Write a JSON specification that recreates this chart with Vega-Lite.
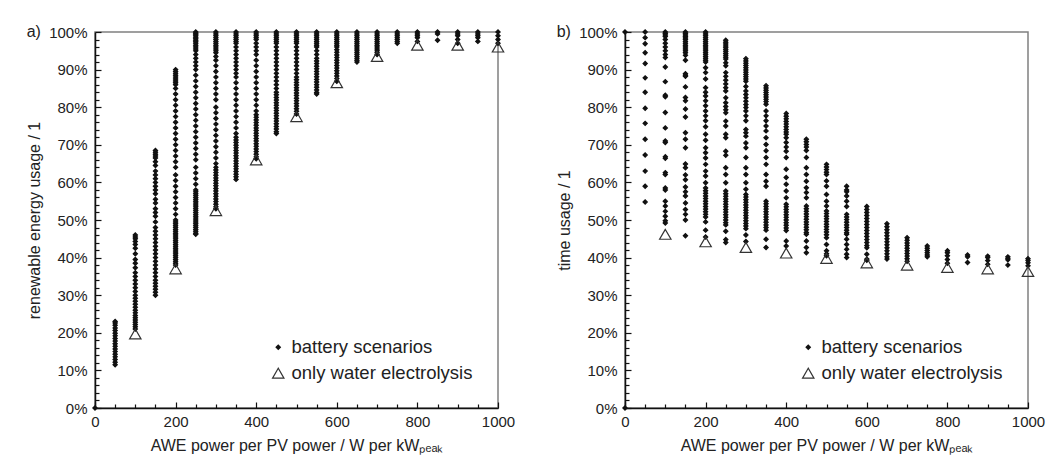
{
"$schema": "https://vega.github.io/schema/vega-lite/v6.json",
"padding": {"left": 25, "top": 23, "right": 5, "bottom": 5},
"background": "white",
"config": {
  "font": "Liberation Sans",
  "view": {"stroke": "#808080", "strokeWidth": 1.5},
  "axis": {"grid": false, "domainColor": "#111111", "domainWidth": 1.5, "tickColor": "#111111", "tickWidth": 1.2, "labelFont": "Liberation Sans", "labelFontSize": 15, "labelColor": "#222222", "titleFont": "Liberation Sans", "titleFontSize": 16, "titleFontWeight": "normal", "titleColor": "#222222", "labelOverlap": false, "labelFlush": false},
  "legend": {"labelFont": "Liberation Sans", "labelFontSize": 18.5, "labelColor": "#222222", "labelLimit": 400, "rowPadding": 7, "labelOffset": 4, "padding": 0, "symbolStrokeWidth": 1.2},
  "title": {"font": "Liberation Sans", "fontSize": 16, "fontWeight": "normal", "color": "#222222", "anchor": "start", "frame": "bounds", "offset": 0, "dy": 19}
},
"datasets": {
"a": [
{"x":0,"y":0,"t":"B"},
{"x":50,"y":11.5,"t":"B"},{"x":50,"y":12.2,"t":"B"},{"x":50,"y":12.9,"t":"B"},{"x":50,"y":13.6,"t":"B"},{"x":50,"y":14.3,"t":"B"},{"x":50,"y":15,"t":"B"},{"x":50,"y":15.7,"t":"B"},{"x":50,"y":16.4,"t":"B"},{"x":50,"y":17.1,"t":"B"},{"x":50,"y":17.8,"t":"B"},{"x":50,"y":18.5,"t":"B"},{"x":50,"y":19.2,"t":"B"},{"x":50,"y":19.9,"t":"B"},{"x":50,"y":20.6,"t":"B"},{"x":50,"y":21.3,"t":"B"},{"x":50,"y":22,"t":"B"},{"x":50,"y":22.6,"t":"B"},{"x":50,"y":23,"t":"B"},
{"x":100,"y":21,"t":"B"},{"x":100,"y":21.6,"t":"B"},{"x":100,"y":22.2,"t":"B"},{"x":100,"y":22.8,"t":"B"},{"x":100,"y":23.4,"t":"B"},{"x":100,"y":24,"t":"B"},{"x":100,"y":24.6,"t":"B"},{"x":100,"y":25.3,"t":"B"},{"x":100,"y":26,"t":"B"},{"x":100,"y":26.8,"t":"B"},{"x":100,"y":27.6,"t":"B"},{"x":100,"y":28.4,"t":"B"},{"x":100,"y":29.2,"t":"B"},{"x":100,"y":30,"t":"B"},{"x":100,"y":31,"t":"B"},{"x":100,"y":32,"t":"B"},{"x":100,"y":33,"t":"B"},{"x":100,"y":34,"t":"B"},{"x":100,"y":35,"t":"B"},{"x":100,"y":36,"t":"B"},{"x":100,"y":37.3,"t":"B"},{"x":100,"y":38.5,"t":"B"},{"x":100,"y":39.5,"t":"B"},{"x":100,"y":41,"t":"B"},{"x":100,"y":42.5,"t":"B"},{"x":100,"y":43.5,"t":"B"},{"x":100,"y":44.3,"t":"B"},{"x":100,"y":45,"t":"B"},{"x":100,"y":45.5,"t":"B"},{"x":100,"y":46,"t":"B"},
{"x":150,"y":30,"t":"B"},{"x":150,"y":30.8,"t":"B"},{"x":150,"y":31.6,"t":"B"},{"x":150,"y":32.4,"t":"B"},{"x":150,"y":33.2,"t":"B"},{"x":150,"y":34,"t":"B"},{"x":150,"y":35,"t":"B"},{"x":150,"y":36,"t":"B"},{"x":150,"y":37,"t":"B"},{"x":150,"y":38,"t":"B"},{"x":150,"y":39,"t":"B"},{"x":150,"y":40,"t":"B"},{"x":150,"y":41,"t":"B"},{"x":150,"y":42,"t":"B"},{"x":150,"y":43,"t":"B"},{"x":150,"y":44,"t":"B"},{"x":150,"y":45,"t":"B"},{"x":150,"y":46,"t":"B"},{"x":150,"y":47,"t":"B"},{"x":150,"y":48,"t":"B"},{"x":150,"y":49.5,"t":"B"},{"x":150,"y":51,"t":"B"},{"x":150,"y":52,"t":"B"},{"x":150,"y":53,"t":"B"},{"x":150,"y":54.5,"t":"B"},{"x":150,"y":55.5,"t":"B"},{"x":150,"y":57,"t":"B"},{"x":150,"y":58,"t":"B"},{"x":150,"y":59,"t":"B"},{"x":150,"y":60,"t":"B"},{"x":150,"y":61,"t":"B"},{"x":150,"y":62,"t":"B"},{"x":150,"y":63,"t":"B"},{"x":150,"y":64.5,"t":"B"},{"x":150,"y":65.5,"t":"B"},{"x":150,"y":66.5,"t":"B"},{"x":150,"y":67,"t":"B"},{"x":150,"y":67.5,"t":"B"},{"x":150,"y":68,"t":"B"},{"x":150,"y":68.5,"t":"B"},
{"x":200,"y":38,"t":"B"},{"x":200,"y":38.5,"t":"B"},{"x":200,"y":39,"t":"B"},{"x":200,"y":39.5,"t":"B"},{"x":200,"y":40,"t":"B"},{"x":200,"y":40.5,"t":"B"},{"x":200,"y":41,"t":"B"},{"x":200,"y":41.5,"t":"B"},{"x":200,"y":42,"t":"B"},{"x":200,"y":42.5,"t":"B"},{"x":200,"y":43,"t":"B"},{"x":200,"y":43.5,"t":"B"},{"x":200,"y":44,"t":"B"},{"x":200,"y":44.5,"t":"B"},{"x":200,"y":45,"t":"B"},{"x":200,"y":45.5,"t":"B"},{"x":200,"y":46,"t":"B"},{"x":200,"y":46.5,"t":"B"},{"x":200,"y":47,"t":"B"},{"x":200,"y":47.5,"t":"B"},{"x":200,"y":48,"t":"B"},{"x":200,"y":48.5,"t":"B"},{"x":200,"y":49,"t":"B"},{"x":200,"y":49.5,"t":"B"},{"x":200,"y":50,"t":"B"},{"x":200,"y":51.5,"t":"B"},{"x":200,"y":53,"t":"B"},{"x":200,"y":54.5,"t":"B"},{"x":200,"y":56,"t":"B"},{"x":200,"y":57.5,"t":"B"},{"x":200,"y":59,"t":"B"},{"x":200,"y":60.5,"t":"B"},{"x":200,"y":62,"t":"B"},{"x":200,"y":64,"t":"B"},{"x":200,"y":65.5,"t":"B"},{"x":200,"y":67,"t":"B"},{"x":200,"y":68.5,"t":"B"},{"x":200,"y":70,"t":"B"},{"x":200,"y":71.5,"t":"B"},{"x":200,"y":73,"t":"B"},{"x":200,"y":74.5,"t":"B"},{"x":200,"y":76,"t":"B"},{"x":200,"y":77.5,"t":"B"},{"x":200,"y":79,"t":"B"},{"x":200,"y":80.5,"t":"B"},{"x":200,"y":82,"t":"B"},{"x":200,"y":83.5,"t":"B"},{"x":200,"y":85,"t":"B"},{"x":200,"y":86,"t":"B"},{"x":200,"y":86.5,"t":"B"},{"x":200,"y":87,"t":"B"},{"x":200,"y":87.5,"t":"B"},{"x":200,"y":88,"t":"B"},{"x":200,"y":88.5,"t":"B"},{"x":200,"y":89,"t":"B"},{"x":200,"y":89.5,"t":"B"},{"x":200,"y":90,"t":"B"},
{"x":250,"y":100,"t":"B"},{"x":250,"y":99.7,"t":"B"},{"x":250,"y":99.4,"t":"B"},{"x":250,"y":99,"t":"B"},{"x":250,"y":98.6,"t":"B"},{"x":250,"y":98.2,"t":"B"},{"x":250,"y":97.8,"t":"B"},{"x":250,"y":97.4,"t":"B"},{"x":250,"y":97,"t":"B"},{"x":250,"y":96.5,"t":"B"},{"x":250,"y":96,"t":"B"},{"x":250,"y":95.5,"t":"B"},{"x":250,"y":95,"t":"B"},{"x":250,"y":94,"t":"B"},{"x":250,"y":93,"t":"B"},{"x":250,"y":92,"t":"B"},{"x":250,"y":91,"t":"B"},{"x":250,"y":90,"t":"B"},{"x":250,"y":88.5,"t":"B"},{"x":250,"y":87,"t":"B"},{"x":250,"y":85.5,"t":"B"},{"x":250,"y":84,"t":"B"},{"x":250,"y":82.5,"t":"B"},{"x":250,"y":81,"t":"B"},{"x":250,"y":79.5,"t":"B"},{"x":250,"y":78,"t":"B"},{"x":250,"y":76.5,"t":"B"},{"x":250,"y":75,"t":"B"},{"x":250,"y":73.5,"t":"B"},{"x":250,"y":72,"t":"B"},{"x":250,"y":70.5,"t":"B"},{"x":250,"y":69,"t":"B"},{"x":250,"y":67.5,"t":"B"},{"x":250,"y":66,"t":"B"},{"x":250,"y":64,"t":"B"},{"x":250,"y":62.5,"t":"B"},{"x":250,"y":61,"t":"B"},{"x":250,"y":59.5,"t":"B"},{"x":250,"y":58,"t":"B"},{"x":250,"y":57.5,"t":"B"},{"x":250,"y":57,"t":"B"},{"x":250,"y":56.5,"t":"B"},{"x":250,"y":56,"t":"B"},{"x":250,"y":55.5,"t":"B"},{"x":250,"y":55,"t":"B"},{"x":250,"y":54.5,"t":"B"},{"x":250,"y":54,"t":"B"},{"x":250,"y":53.5,"t":"B"},{"x":250,"y":53,"t":"B"},{"x":250,"y":52.5,"t":"B"},{"x":250,"y":52,"t":"B"},{"x":250,"y":51.5,"t":"B"},{"x":250,"y":51,"t":"B"},{"x":250,"y":50.5,"t":"B"},{"x":250,"y":50,"t":"B"},{"x":250,"y":49.5,"t":"B"},{"x":250,"y":49,"t":"B"},{"x":250,"y":48.5,"t":"B"},{"x":250,"y":48,"t":"B"},{"x":250,"y":47.5,"t":"B"},{"x":250,"y":47,"t":"B"},{"x":250,"y":46.5,"t":"B"},{"x":250,"y":46.2,"t":"B"},
{"x":300,"y":100,"t":"B"},{"x":300,"y":99.5,"t":"B"},{"x":300,"y":99,"t":"B"},{"x":300,"y":98.5,"t":"B"},{"x":300,"y":98,"t":"B"},{"x":300,"y":97.5,"t":"B"},{"x":300,"y":97,"t":"B"},{"x":300,"y":96.5,"t":"B"},{"x":300,"y":96,"t":"B"},{"x":300,"y":95.5,"t":"B"},{"x":300,"y":95,"t":"B"},{"x":300,"y":94.5,"t":"B"},{"x":300,"y":93.5,"t":"B"},{"x":300,"y":92.5,"t":"B"},{"x":300,"y":91,"t":"B"},{"x":300,"y":89.5,"t":"B"},{"x":300,"y":88,"t":"B"},{"x":300,"y":86.5,"t":"B"},{"x":300,"y":85,"t":"B"},{"x":300,"y":83.5,"t":"B"},{"x":300,"y":82,"t":"B"},{"x":300,"y":80,"t":"B"},{"x":300,"y":78.5,"t":"B"},{"x":300,"y":77,"t":"B"},{"x":300,"y":75.5,"t":"B"},{"x":300,"y":74,"t":"B"},{"x":300,"y":72.5,"t":"B"},{"x":300,"y":71,"t":"B"},{"x":300,"y":69.5,"t":"B"},{"x":300,"y":68,"t":"B"},{"x":300,"y":66.5,"t":"B"},{"x":300,"y":65,"t":"B"},{"x":300,"y":64,"t":"B"},{"x":300,"y":63.3,"t":"B"},{"x":300,"y":62.6,"t":"B"},{"x":300,"y":61.9,"t":"B"},{"x":300,"y":61.2,"t":"B"},{"x":300,"y":60.5,"t":"B"},{"x":300,"y":59.8,"t":"B"},{"x":300,"y":59.1,"t":"B"},{"x":300,"y":58.4,"t":"B"},{"x":300,"y":57.7,"t":"B"},{"x":300,"y":57,"t":"B"},{"x":300,"y":56.3,"t":"B"},{"x":300,"y":55.6,"t":"B"},{"x":300,"y":54.9,"t":"B"},{"x":300,"y":54.2,"t":"B"},{"x":300,"y":53.5,"t":"B"},{"x":300,"y":53,"t":"B"},
{"x":350,"y":100,"t":"B"},{"x":350,"y":99.5,"t":"B"},{"x":350,"y":99,"t":"B"},{"x":350,"y":98.5,"t":"B"},{"x":350,"y":98,"t":"B"},{"x":350,"y":97.5,"t":"B"},{"x":350,"y":97,"t":"B"},{"x":350,"y":96,"t":"B"},{"x":350,"y":95,"t":"B"},{"x":350,"y":94,"t":"B"},{"x":350,"y":93,"t":"B"},{"x":350,"y":92,"t":"B"},{"x":350,"y":91,"t":"B"},{"x":350,"y":90,"t":"B"},{"x":350,"y":89,"t":"B"},{"x":350,"y":88,"t":"B"},{"x":350,"y":86.5,"t":"B"},{"x":350,"y":85,"t":"B"},{"x":350,"y":83.5,"t":"B"},{"x":350,"y":82,"t":"B"},{"x":350,"y":80.5,"t":"B"},{"x":350,"y":79,"t":"B"},{"x":350,"y":77.5,"t":"B"},{"x":350,"y":76,"t":"B"},{"x":350,"y":74.5,"t":"B"},{"x":350,"y":73,"t":"B"},{"x":350,"y":72,"t":"B"},{"x":350,"y":71.3,"t":"B"},{"x":350,"y":70.6,"t":"B"},{"x":350,"y":69.9,"t":"B"},{"x":350,"y":69.2,"t":"B"},{"x":350,"y":68.5,"t":"B"},{"x":350,"y":67.8,"t":"B"},{"x":350,"y":67.1,"t":"B"},{"x":350,"y":66.4,"t":"B"},{"x":350,"y":65.7,"t":"B"},{"x":350,"y":65,"t":"B"},{"x":350,"y":64.3,"t":"B"},{"x":350,"y":63.6,"t":"B"},{"x":350,"y":62.9,"t":"B"},{"x":350,"y":62.2,"t":"B"},{"x":350,"y":61.5,"t":"B"},{"x":350,"y":60.8,"t":"B"},
{"x":400,"y":100,"t":"B"},{"x":400,"y":99.5,"t":"B"},{"x":400,"y":99,"t":"B"},{"x":400,"y":98.5,"t":"B"},{"x":400,"y":98,"t":"B"},{"x":400,"y":97,"t":"B"},{"x":400,"y":96,"t":"B"},{"x":400,"y":95,"t":"B"},{"x":400,"y":94,"t":"B"},{"x":400,"y":92.5,"t":"B"},{"x":400,"y":91,"t":"B"},{"x":400,"y":89.5,"t":"B"},{"x":400,"y":88,"t":"B"},{"x":400,"y":86.5,"t":"B"},{"x":400,"y":85,"t":"B"},{"x":400,"y":83.5,"t":"B"},{"x":400,"y":82,"t":"B"},{"x":400,"y":80.5,"t":"B"},{"x":400,"y":79,"t":"B"},{"x":400,"y":78,"t":"B"},{"x":400,"y":77.3,"t":"B"},{"x":400,"y":76.6,"t":"B"},{"x":400,"y":75.9,"t":"B"},{"x":400,"y":75.2,"t":"B"},{"x":400,"y":74.5,"t":"B"},{"x":400,"y":73.8,"t":"B"},{"x":400,"y":73.1,"t":"B"},{"x":400,"y":72.4,"t":"B"},{"x":400,"y":71.7,"t":"B"},{"x":400,"y":71,"t":"B"},{"x":400,"y":70.3,"t":"B"},{"x":400,"y":69.6,"t":"B"},{"x":400,"y":68.9,"t":"B"},{"x":400,"y":68.2,"t":"B"},{"x":400,"y":67.5,"t":"B"},{"x":400,"y":66.8,"t":"B"},{"x":400,"y":66.3,"t":"B"},
{"x":450,"y":100,"t":"B"},{"x":450,"y":99.5,"t":"B"},{"x":450,"y":99,"t":"B"},{"x":450,"y":98.5,"t":"B"},{"x":450,"y":98,"t":"B"},{"x":450,"y":97.5,"t":"B"},{"x":450,"y":97,"t":"B"},{"x":450,"y":96,"t":"B"},{"x":450,"y":95,"t":"B"},{"x":450,"y":94,"t":"B"},{"x":450,"y":93,"t":"B"},{"x":450,"y":92,"t":"B"},{"x":450,"y":91,"t":"B"},{"x":450,"y":90,"t":"B"},{"x":450,"y":89,"t":"B"},{"x":450,"y":88,"t":"B"},{"x":450,"y":87,"t":"B"},{"x":450,"y":86,"t":"B"},{"x":450,"y":85,"t":"B"},{"x":450,"y":84,"t":"B"},{"x":450,"y":83.3,"t":"B"},{"x":450,"y":82.6,"t":"B"},{"x":450,"y":81.9,"t":"B"},{"x":450,"y":81.2,"t":"B"},{"x":450,"y":80.5,"t":"B"},{"x":450,"y":79.8,"t":"B"},{"x":450,"y":79.1,"t":"B"},{"x":450,"y":78.4,"t":"B"},{"x":450,"y":77.7,"t":"B"},{"x":450,"y":77,"t":"B"},{"x":450,"y":76.3,"t":"B"},{"x":450,"y":75.6,"t":"B"},{"x":450,"y":74.9,"t":"B"},{"x":450,"y":74.2,"t":"B"},{"x":450,"y":73.5,"t":"B"},{"x":450,"y":73,"t":"B"},
{"x":500,"y":100,"t":"B"},{"x":500,"y":99.5,"t":"B"},{"x":500,"y":99,"t":"B"},{"x":500,"y":98.5,"t":"B"},{"x":500,"y":98,"t":"B"},{"x":500,"y":97.5,"t":"B"},{"x":500,"y":97,"t":"B"},{"x":500,"y":96,"t":"B"},{"x":500,"y":95,"t":"B"},{"x":500,"y":94,"t":"B"},{"x":500,"y":93,"t":"B"},{"x":500,"y":92,"t":"B"},{"x":500,"y":91,"t":"B"},{"x":500,"y":90,"t":"B"},{"x":500,"y":89,"t":"B"},{"x":500,"y":88,"t":"B"},{"x":500,"y":87.3,"t":"B"},{"x":500,"y":86.6,"t":"B"},{"x":500,"y":85.9,"t":"B"},{"x":500,"y":85.2,"t":"B"},{"x":500,"y":84.5,"t":"B"},{"x":500,"y":83.8,"t":"B"},{"x":500,"y":83.1,"t":"B"},{"x":500,"y":82.4,"t":"B"},{"x":500,"y":81.7,"t":"B"},{"x":500,"y":81,"t":"B"},{"x":500,"y":80.3,"t":"B"},{"x":500,"y":79.6,"t":"B"},{"x":500,"y":78.9,"t":"B"},{"x":500,"y":78.2,"t":"B"},
{"x":550,"y":100,"t":"B"},{"x":550,"y":99.5,"t":"B"},{"x":550,"y":99,"t":"B"},{"x":550,"y":98.5,"t":"B"},{"x":550,"y":98,"t":"B"},{"x":550,"y":97.5,"t":"B"},{"x":550,"y":97,"t":"B"},{"x":550,"y":96.5,"t":"B"},{"x":550,"y":96,"t":"B"},{"x":550,"y":95,"t":"B"},{"x":550,"y":94,"t":"B"},{"x":550,"y":93,"t":"B"},{"x":550,"y":92.3,"t":"B"},{"x":550,"y":91.6,"t":"B"},{"x":550,"y":90.9,"t":"B"},{"x":550,"y":90.2,"t":"B"},{"x":550,"y":89.5,"t":"B"},{"x":550,"y":88.8,"t":"B"},{"x":550,"y":88.1,"t":"B"},{"x":550,"y":87.4,"t":"B"},{"x":550,"y":86.7,"t":"B"},{"x":550,"y":86,"t":"B"},{"x":550,"y":85.3,"t":"B"},{"x":550,"y":84.6,"t":"B"},{"x":550,"y":83.9,"t":"B"},{"x":550,"y":83.5,"t":"B"},
{"x":600,"y":100,"t":"B"},{"x":600,"y":99.5,"t":"B"},{"x":600,"y":99,"t":"B"},{"x":600,"y":98.5,"t":"B"},{"x":600,"y":98,"t":"B"},{"x":600,"y":97.5,"t":"B"},{"x":600,"y":97,"t":"B"},{"x":600,"y":96.5,"t":"B"},{"x":600,"y":96,"t":"B"},{"x":600,"y":95.3,"t":"B"},{"x":600,"y":94.6,"t":"B"},{"x":600,"y":93.9,"t":"B"},{"x":600,"y":93.2,"t":"B"},{"x":600,"y":92.5,"t":"B"},{"x":600,"y":91.8,"t":"B"},{"x":600,"y":91.1,"t":"B"},{"x":600,"y":90.4,"t":"B"},{"x":600,"y":89.7,"t":"B"},{"x":600,"y":89,"t":"B"},{"x":600,"y":88.3,"t":"B"},{"x":600,"y":87.6,"t":"B"},{"x":600,"y":86.9,"t":"B"},
{"x":650,"y":100,"t":"B"},{"x":650,"y":99.5,"t":"B"},{"x":650,"y":99,"t":"B"},{"x":650,"y":98.5,"t":"B"},{"x":650,"y":98,"t":"B"},{"x":650,"y":97.5,"t":"B"},{"x":650,"y":97,"t":"B"},{"x":650,"y":96.5,"t":"B"},{"x":650,"y":96,"t":"B"},{"x":650,"y":95.5,"t":"B"},{"x":650,"y":95,"t":"B"},{"x":650,"y":94.5,"t":"B"},{"x":650,"y":94,"t":"B"},{"x":650,"y":93.5,"t":"B"},{"x":650,"y":93,"t":"B"},{"x":650,"y":92.5,"t":"B"},{"x":650,"y":92,"t":"B"},
{"x":700,"y":100,"t":"B"},{"x":700,"y":99.5,"t":"B"},{"x":700,"y":99,"t":"B"},{"x":700,"y":98.5,"t":"B"},{"x":700,"y":98,"t":"B"},{"x":700,"y":97.5,"t":"B"},{"x":700,"y":97,"t":"B"},{"x":700,"y":96.5,"t":"B"},{"x":700,"y":96,"t":"B"},{"x":700,"y":95.5,"t":"B"},{"x":700,"y":95,"t":"B"},{"x":700,"y":94.5,"t":"B"},{"x":700,"y":94,"t":"B"},
{"x":750,"y":100,"t":"B"},{"x":750,"y":99.5,"t":"B"},{"x":750,"y":99,"t":"B"},{"x":750,"y":98.5,"t":"B"},{"x":750,"y":98,"t":"B"},{"x":750,"y":97.5,"t":"B"},{"x":750,"y":97,"t":"B"},
{"x":800,"y":100,"t":"B"},{"x":800,"y":99.5,"t":"B"},{"x":800,"y":99,"t":"B"},{"x":800,"y":98.5,"t":"B"},{"x":800,"y":97.5,"t":"B"},
{"x":850,"y":100,"t":"B"},{"x":850,"y":99.5,"t":"B"},{"x":850,"y":97.8,"t":"B"},
{"x":900,"y":100,"t":"B"},{"x":900,"y":99.5,"t":"B"},{"x":900,"y":99,"t":"B"},{"x":900,"y":98,"t":"B"},{"x":900,"y":97,"t":"B"},
{"x":950,"y":100,"t":"B"},{"x":950,"y":99.5,"t":"B"},{"x":950,"y":99,"t":"B"},{"x":950,"y":98.5,"t":"B"},{"x":950,"y":97.5,"t":"B"},
{"x":1000,"y":100,"t":"B"},{"x":1000,"y":99,"t":"B"},{"x":1000,"y":98,"t":"B"},{"x":1000,"y":97,"t":"B"},
{"x":100,"y":19.7,"t":"W"},{"x":200,"y":37,"t":"W"},{"x":300,"y":52.5,"t":"W"},{"x":400,"y":66,"t":"W"},{"x":500,"y":77.5,"t":"W"},{"x":600,"y":86.5,"t":"W"},{"x":700,"y":93.5,"t":"W"},{"x":800,"y":96.5,"t":"W"},{"x":900,"y":96.5,"t":"W"},{"x":1000,"y":96,"t":"W"}
],
"b": [
{"x":0,"y":100,"t":"B"},{"x":0,"y":0,"t":"B"},
{"x":50,"y":100,"t":"B"},{"x":50,"y":98.5,"t":"B"},{"x":50,"y":96.9,"t":"B"},{"x":50,"y":94.5,"t":"B"},{"x":50,"y":91.6,"t":"B"},{"x":50,"y":87.8,"t":"B"},{"x":50,"y":84,"t":"B"},{"x":50,"y":79.7,"t":"B"},{"x":50,"y":75.7,"t":"B"},{"x":50,"y":71.5,"t":"B"},{"x":50,"y":67.3,"t":"B"},{"x":50,"y":63,"t":"B"},{"x":50,"y":59,"t":"B"},{"x":50,"y":54.8,"t":"B"},
{"x":100,"y":100,"t":"B"},{"x":100,"y":99.6,"t":"B"},{"x":100,"y":99.2,"t":"B"},{"x":100,"y":98.8,"t":"B"},{"x":100,"y":98,"t":"B"},{"x":100,"y":97,"t":"B"},{"x":100,"y":96,"t":"B"},{"x":100,"y":95,"t":"B"},{"x":100,"y":94,"t":"B"},{"x":100,"y":93.2,"t":"B"},{"x":100,"y":90.7,"t":"B"},{"x":100,"y":86.8,"t":"B"},{"x":100,"y":83.2,"t":"B"},{"x":100,"y":82.8,"t":"B"},{"x":100,"y":78.6,"t":"B"},{"x":100,"y":74.5,"t":"B"},{"x":100,"y":71,"t":"B"},{"x":100,"y":70.6,"t":"B"},{"x":100,"y":66.8,"t":"B"},{"x":100,"y":66.4,"t":"B"},{"x":100,"y":62.6,"t":"B"},{"x":100,"y":62.1,"t":"B"},{"x":100,"y":58.5,"t":"B"},{"x":100,"y":58,"t":"B"},{"x":100,"y":55,"t":"B"},{"x":100,"y":53.7,"t":"B"},{"x":100,"y":52.3,"t":"B"},{"x":100,"y":51,"t":"B"},{"x":100,"y":49.8,"t":"B"},{"x":100,"y":49.2,"t":"B"},
{"x":150,"y":100,"t":"B"},{"x":150,"y":99.6,"t":"B"},{"x":150,"y":99.2,"t":"B"},{"x":150,"y":98.8,"t":"B"},{"x":150,"y":98.4,"t":"B"},{"x":150,"y":98,"t":"B"},{"x":150,"y":97.5,"t":"B"},{"x":150,"y":97,"t":"B"},{"x":150,"y":96.5,"t":"B"},{"x":150,"y":96,"t":"B"},{"x":150,"y":95.5,"t":"B"},{"x":150,"y":95,"t":"B"},{"x":150,"y":94.5,"t":"B"},{"x":150,"y":93.8,"t":"B"},{"x":150,"y":92.5,"t":"B"},{"x":150,"y":88.9,"t":"B"},{"x":150,"y":88.5,"t":"B"},{"x":150,"y":88.2,"t":"B"},{"x":150,"y":85.4,"t":"B"},{"x":150,"y":82.6,"t":"B"},{"x":150,"y":81.7,"t":"B"},{"x":150,"y":79.5,"t":"B"},{"x":150,"y":77.4,"t":"B"},{"x":150,"y":73.2,"t":"B"},{"x":150,"y":71.5,"t":"B"},{"x":150,"y":69.2,"t":"B"},{"x":150,"y":64.9,"t":"B"},{"x":150,"y":63.9,"t":"B"},{"x":150,"y":62,"t":"B"},{"x":150,"y":60.7,"t":"B"},{"x":150,"y":58.8,"t":"B"},{"x":150,"y":57.5,"t":"B"},{"x":150,"y":56.4,"t":"B"},{"x":150,"y":54.5,"t":"B"},{"x":150,"y":52.8,"t":"B"},{"x":150,"y":51.5,"t":"B"},{"x":150,"y":50,"t":"B"},{"x":150,"y":45.8,"t":"B"},
{"x":200,"y":100,"t":"B"},{"x":200,"y":99.5,"t":"B"},{"x":200,"y":99,"t":"B"},{"x":200,"y":98.5,"t":"B"},{"x":200,"y":98,"t":"B"},{"x":200,"y":97.5,"t":"B"},{"x":200,"y":97,"t":"B"},{"x":200,"y":96.5,"t":"B"},{"x":200,"y":96,"t":"B"},{"x":200,"y":95.5,"t":"B"},{"x":200,"y":95,"t":"B"},{"x":200,"y":94.5,"t":"B"},{"x":200,"y":94,"t":"B"},{"x":200,"y":93.5,"t":"B"},{"x":200,"y":93,"t":"B"},{"x":200,"y":92.5,"t":"B"},{"x":200,"y":92,"t":"B"},{"x":200,"y":90.5,"t":"B"},{"x":200,"y":89.2,"t":"B"},{"x":200,"y":87.5,"t":"B"},{"x":200,"y":85.2,"t":"B"},{"x":200,"y":84,"t":"B"},{"x":200,"y":83,"t":"B"},{"x":200,"y":81.7,"t":"B"},{"x":200,"y":80.4,"t":"B"},{"x":200,"y":79,"t":"B"},{"x":200,"y":77.7,"t":"B"},{"x":200,"y":76.4,"t":"B"},{"x":200,"y":74.8,"t":"B"},{"x":200,"y":72.8,"t":"B"},{"x":200,"y":71.2,"t":"B"},{"x":200,"y":69.2,"t":"B"},{"x":200,"y":67.9,"t":"B"},{"x":200,"y":66.5,"t":"B"},{"x":200,"y":64.8,"t":"B"},{"x":200,"y":63,"t":"B"},{"x":200,"y":61.7,"t":"B"},{"x":200,"y":59.9,"t":"B"},{"x":200,"y":58.5,"t":"B"},{"x":200,"y":57.8,"t":"B"},{"x":200,"y":57.1,"t":"B"},{"x":200,"y":56.4,"t":"B"},{"x":200,"y":55.7,"t":"B"},{"x":200,"y":55,"t":"B"},{"x":200,"y":54.3,"t":"B"},{"x":200,"y":53.6,"t":"B"},{"x":200,"y":52.9,"t":"B"},{"x":200,"y":52.2,"t":"B"},{"x":200,"y":51.5,"t":"B"},{"x":200,"y":50.8,"t":"B"},{"x":200,"y":49.5,"t":"B"},{"x":200,"y":47.3,"t":"B"},{"x":200,"y":45.5,"t":"B"},
{"x":250,"y":97.8,"t":"B"},{"x":250,"y":97.3,"t":"B"},{"x":250,"y":96.8,"t":"B"},{"x":250,"y":96.3,"t":"B"},{"x":250,"y":95.8,"t":"B"},{"x":250,"y":95.3,"t":"B"},{"x":250,"y":94.8,"t":"B"},{"x":250,"y":94.3,"t":"B"},{"x":250,"y":93.8,"t":"B"},{"x":250,"y":93.3,"t":"B"},{"x":250,"y":92.8,"t":"B"},{"x":250,"y":91.8,"t":"B"},{"x":250,"y":91,"t":"B"},{"x":250,"y":89.2,"t":"B"},{"x":250,"y":88.2,"t":"B"},{"x":250,"y":87.2,"t":"B"},{"x":250,"y":86.2,"t":"B"},{"x":250,"y":85.2,"t":"B"},{"x":250,"y":84.3,"t":"B"},{"x":250,"y":82.5,"t":"B"},{"x":250,"y":81.2,"t":"B"},{"x":250,"y":80.2,"t":"B"},{"x":250,"y":79.3,"t":"B"},{"x":250,"y":78.5,"t":"B"},{"x":250,"y":76.3,"t":"B"},{"x":250,"y":75,"t":"B"},{"x":250,"y":72.8,"t":"B"},{"x":250,"y":71.9,"t":"B"},{"x":250,"y":68.3,"t":"B"},{"x":250,"y":67.2,"t":"B"},{"x":250,"y":63.9,"t":"B"},{"x":250,"y":62.1,"t":"B"},{"x":250,"y":59.9,"t":"B"},{"x":250,"y":57.7,"t":"B"},{"x":250,"y":57,"t":"B"},{"x":250,"y":56.3,"t":"B"},{"x":250,"y":55.6,"t":"B"},{"x":250,"y":54.9,"t":"B"},{"x":250,"y":54.2,"t":"B"},{"x":250,"y":53.5,"t":"B"},{"x":250,"y":52.8,"t":"B"},{"x":250,"y":52.1,"t":"B"},{"x":250,"y":51.4,"t":"B"},{"x":250,"y":50.7,"t":"B"},{"x":250,"y":50,"t":"B"},{"x":250,"y":49.3,"t":"B"},{"x":250,"y":48.7,"t":"B"},{"x":250,"y":47,"t":"B"},{"x":250,"y":44.8,"t":"B"},{"x":250,"y":44,"t":"B"},
{"x":300,"y":92.9,"t":"B"},{"x":300,"y":92.3,"t":"B"},{"x":300,"y":91.7,"t":"B"},{"x":300,"y":91.1,"t":"B"},{"x":300,"y":90.5,"t":"B"},{"x":300,"y":89.9,"t":"B"},{"x":300,"y":89.3,"t":"B"},{"x":300,"y":88.7,"t":"B"},{"x":300,"y":88.1,"t":"B"},{"x":300,"y":87.5,"t":"B"},{"x":300,"y":86.9,"t":"B"},{"x":300,"y":85.5,"t":"B"},{"x":300,"y":84.3,"t":"B"},{"x":300,"y":83.4,"t":"B"},{"x":300,"y":82.5,"t":"B"},{"x":300,"y":81.6,"t":"B"},{"x":300,"y":80.7,"t":"B"},{"x":300,"y":79.9,"t":"B"},{"x":300,"y":79,"t":"B"},{"x":300,"y":77.7,"t":"B"},{"x":300,"y":76.4,"t":"B"},{"x":300,"y":74.1,"t":"B"},{"x":300,"y":73.2,"t":"B"},{"x":300,"y":72.3,"t":"B"},{"x":300,"y":70.5,"t":"B"},{"x":300,"y":69.2,"t":"B"},{"x":300,"y":66.6,"t":"B"},{"x":300,"y":63.9,"t":"B"},{"x":300,"y":62.1,"t":"B"},{"x":300,"y":59.9,"t":"B"},{"x":300,"y":58.2,"t":"B"},{"x":300,"y":56.8,"t":"B"},{"x":300,"y":56.1,"t":"B"},{"x":300,"y":55.4,"t":"B"},{"x":300,"y":54.7,"t":"B"},{"x":300,"y":54,"t":"B"},{"x":300,"y":53.3,"t":"B"},{"x":300,"y":52.6,"t":"B"},{"x":300,"y":51.9,"t":"B"},{"x":300,"y":51.2,"t":"B"},{"x":300,"y":50.5,"t":"B"},{"x":300,"y":49.8,"t":"B"},{"x":300,"y":49.1,"t":"B"},{"x":300,"y":48.4,"t":"B"},{"x":300,"y":47.7,"t":"B"},{"x":300,"y":46,"t":"B"},{"x":300,"y":44.3,"t":"B"},
{"x":350,"y":85.7,"t":"B"},{"x":350,"y":85.1,"t":"B"},{"x":350,"y":84.5,"t":"B"},{"x":350,"y":83.9,"t":"B"},{"x":350,"y":83.3,"t":"B"},{"x":350,"y":82.7,"t":"B"},{"x":350,"y":82.1,"t":"B"},{"x":350,"y":81.5,"t":"B"},{"x":350,"y":80.8,"t":"B"},{"x":350,"y":79,"t":"B"},{"x":350,"y":77.7,"t":"B"},{"x":350,"y":76.4,"t":"B"},{"x":350,"y":75,"t":"B"},{"x":350,"y":73.7,"t":"B"},{"x":350,"y":71.9,"t":"B"},{"x":350,"y":70.1,"t":"B"},{"x":350,"y":68.4,"t":"B"},{"x":350,"y":66.6,"t":"B"},{"x":350,"y":64.8,"t":"B"},{"x":350,"y":62.1,"t":"B"},{"x":350,"y":60.3,"t":"B"},{"x":350,"y":59,"t":"B"},{"x":350,"y":55,"t":"B"},{"x":350,"y":54.3,"t":"B"},{"x":350,"y":53.6,"t":"B"},{"x":350,"y":52.9,"t":"B"},{"x":350,"y":52.2,"t":"B"},{"x":350,"y":51.5,"t":"B"},{"x":350,"y":50.8,"t":"B"},{"x":350,"y":50.1,"t":"B"},{"x":350,"y":49.4,"t":"B"},{"x":350,"y":48.7,"t":"B"},{"x":350,"y":48,"t":"B"},{"x":350,"y":47.3,"t":"B"},{"x":350,"y":44.9,"t":"B"},{"x":350,"y":42.7,"t":"B"},
{"x":400,"y":78.3,"t":"B"},{"x":400,"y":77.6,"t":"B"},{"x":400,"y":76.9,"t":"B"},{"x":400,"y":76.2,"t":"B"},{"x":400,"y":75.5,"t":"B"},{"x":400,"y":74.8,"t":"B"},{"x":400,"y":74.1,"t":"B"},{"x":400,"y":73.4,"t":"B"},{"x":400,"y":72.8,"t":"B"},{"x":400,"y":71.9,"t":"B"},{"x":400,"y":70.6,"t":"B"},{"x":400,"y":69.4,"t":"B"},{"x":400,"y":68.3,"t":"B"},{"x":400,"y":66.6,"t":"B"},{"x":400,"y":63.5,"t":"B"},{"x":400,"y":61.3,"t":"B"},{"x":400,"y":59.5,"t":"B"},{"x":400,"y":57.7,"t":"B"},{"x":400,"y":55.9,"t":"B"},{"x":400,"y":54.2,"t":"B"},{"x":400,"y":53.5,"t":"B"},{"x":400,"y":52.8,"t":"B"},{"x":400,"y":52.1,"t":"B"},{"x":400,"y":51.4,"t":"B"},{"x":400,"y":50.7,"t":"B"},{"x":400,"y":50,"t":"B"},{"x":400,"y":49.3,"t":"B"},{"x":400,"y":48.6,"t":"B"},{"x":400,"y":47.9,"t":"B"},{"x":400,"y":47.2,"t":"B"},{"x":400,"y":44.4,"t":"B"},{"x":400,"y":43.1,"t":"B"},
{"x":450,"y":71.5,"t":"B"},{"x":450,"y":70.8,"t":"B"},{"x":450,"y":70.1,"t":"B"},{"x":450,"y":69.4,"t":"B"},{"x":450,"y":68.5,"t":"B"},{"x":450,"y":66.6,"t":"B"},{"x":450,"y":63.9,"t":"B"},{"x":450,"y":62.1,"t":"B"},{"x":450,"y":60.3,"t":"B"},{"x":450,"y":58.6,"t":"B"},{"x":450,"y":57.3,"t":"B"},{"x":450,"y":55.9,"t":"B"},{"x":450,"y":53.7,"t":"B"},{"x":450,"y":53,"t":"B"},{"x":450,"y":52.3,"t":"B"},{"x":450,"y":51.6,"t":"B"},{"x":450,"y":50.9,"t":"B"},{"x":450,"y":50.2,"t":"B"},{"x":450,"y":49.5,"t":"B"},{"x":450,"y":48.8,"t":"B"},{"x":450,"y":48.1,"t":"B"},{"x":450,"y":47.4,"t":"B"},{"x":450,"y":46.7,"t":"B"},{"x":450,"y":46.2,"t":"B"},{"x":450,"y":44.4,"t":"B"},{"x":450,"y":42.7,"t":"B"},{"x":450,"y":41.3,"t":"B"},
{"x":500,"y":64.8,"t":"B"},{"x":500,"y":64.1,"t":"B"},{"x":500,"y":63.4,"t":"B"},{"x":500,"y":62.7,"t":"B"},{"x":500,"y":62.1,"t":"B"},{"x":500,"y":60.4,"t":"B"},{"x":500,"y":59,"t":"B"},{"x":500,"y":56.8,"t":"B"},{"x":500,"y":55,"t":"B"},{"x":500,"y":53.7,"t":"B"},{"x":500,"y":52.4,"t":"B"},{"x":500,"y":51.7,"t":"B"},{"x":500,"y":51,"t":"B"},{"x":500,"y":50.3,"t":"B"},{"x":500,"y":49.6,"t":"B"},{"x":500,"y":48.9,"t":"B"},{"x":500,"y":48.2,"t":"B"},{"x":500,"y":47.5,"t":"B"},{"x":500,"y":46.8,"t":"B"},{"x":500,"y":46.1,"t":"B"},{"x":500,"y":45.3,"t":"B"},{"x":500,"y":43.5,"t":"B"},{"x":500,"y":41.8,"t":"B"},{"x":500,"y":41,"t":"B"},{"x":500,"y":40.5,"t":"B"},
{"x":550,"y":59,"t":"B"},{"x":550,"y":58,"t":"B"},{"x":550,"y":57.5,"t":"B"},{"x":550,"y":56.4,"t":"B"},{"x":550,"y":55,"t":"B"},{"x":550,"y":53.6,"t":"B"},{"x":550,"y":51.5,"t":"B"},{"x":550,"y":50.8,"t":"B"},{"x":550,"y":50.1,"t":"B"},{"x":550,"y":49.4,"t":"B"},{"x":550,"y":48.7,"t":"B"},{"x":550,"y":48,"t":"B"},{"x":550,"y":47.3,"t":"B"},{"x":550,"y":46.6,"t":"B"},{"x":550,"y":46.2,"t":"B"},{"x":550,"y":44.9,"t":"B"},{"x":550,"y":43.5,"t":"B"},{"x":550,"y":42.2,"t":"B"},{"x":550,"y":40.9,"t":"B"},{"x":550,"y":40,"t":"B"},
{"x":600,"y":53.6,"t":"B"},{"x":600,"y":52.8,"t":"B"},{"x":600,"y":52,"t":"B"},{"x":600,"y":51.2,"t":"B"},{"x":600,"y":50.4,"t":"B"},{"x":600,"y":49.6,"t":"B"},{"x":600,"y":48.8,"t":"B"},{"x":600,"y":48,"t":"B"},{"x":600,"y":47.2,"t":"B"},{"x":600,"y":46.4,"t":"B"},{"x":600,"y":45.6,"t":"B"},{"x":600,"y":44.8,"t":"B"},{"x":600,"y":44,"t":"B"},{"x":600,"y":43.2,"t":"B"},{"x":600,"y":42.6,"t":"B"},{"x":600,"y":40.9,"t":"B"},{"x":600,"y":39.6,"t":"B"},{"x":600,"y":39.3,"t":"B"},
{"x":650,"y":49,"t":"B"},{"x":650,"y":48.2,"t":"B"},{"x":650,"y":47.4,"t":"B"},{"x":650,"y":46.6,"t":"B"},{"x":650,"y":45.8,"t":"B"},{"x":650,"y":45,"t":"B"},{"x":650,"y":44.2,"t":"B"},{"x":650,"y":43.4,"t":"B"},{"x":650,"y":42.6,"t":"B"},{"x":650,"y":41.8,"t":"B"},{"x":650,"y":41,"t":"B"},{"x":650,"y":40.2,"t":"B"},{"x":650,"y":39.6,"t":"B"},
{"x":700,"y":45.3,"t":"B"},{"x":700,"y":44.6,"t":"B"},{"x":700,"y":43.9,"t":"B"},{"x":700,"y":43.2,"t":"B"},{"x":700,"y":42.5,"t":"B"},{"x":700,"y":41.8,"t":"B"},{"x":700,"y":41.1,"t":"B"},{"x":700,"y":40.4,"t":"B"},{"x":700,"y":39.7,"t":"B"},{"x":700,"y":39,"t":"B"},
{"x":750,"y":43.1,"t":"B"},{"x":750,"y":42.5,"t":"B"},{"x":750,"y":41.9,"t":"B"},{"x":750,"y":41.3,"t":"B"},{"x":750,"y":40.7,"t":"B"},{"x":750,"y":40.2,"t":"B"},
{"x":800,"y":41.8,"t":"B"},{"x":800,"y":41.3,"t":"B"},{"x":800,"y":40.5,"t":"B"},{"x":800,"y":39.5,"t":"B"},{"x":800,"y":38.5,"t":"B"},
{"x":850,"y":40.7,"t":"B"},{"x":850,"y":40.2,"t":"B"},{"x":850,"y":38.7,"t":"B"},
{"x":900,"y":40.4,"t":"B"},{"x":900,"y":40,"t":"B"},{"x":900,"y":39.2,"t":"B"},{"x":900,"y":38.2,"t":"B"},
{"x":950,"y":40.2,"t":"B"},{"x":950,"y":39.8,"t":"B"},{"x":950,"y":39.4,"t":"B"},{"x":950,"y":38,"t":"B"},
{"x":1000,"y":39.7,"t":"B"},{"x":1000,"y":39.2,"t":"B"},{"x":1000,"y":38.6,"t":"B"},{"x":1000,"y":37.8,"t":"B"},
{"x":100,"y":46.2,"t":"W"},{"x":200,"y":44.2,"t":"W"},{"x":300,"y":42.7,"t":"W"},{"x":400,"y":41.2,"t":"W"},{"x":500,"y":39.8,"t":"W"},{"x":600,"y":38.6,"t":"W"},{"x":700,"y":38,"t":"W"},{"x":800,"y":37.4,"t":"W"},{"x":900,"y":37,"t":"W"},{"x":1000,"y":36.3,"t":"W"}
]
},
"spacing": 39,
"resolve": {"scale": {"shape": "independent", "fill": "independent", "stroke": "independent", "size": "independent"}, "legend": {"shape": "independent", "fill": "independent", "stroke": "independent", "size": "independent"}},
"hconcat": [
{
  "width": 403, "height": 376,
  "title": {"text": "a)"},
  "data": {"name": "a"},
  "mark": {"type": "point", "strokeWidth": 1.2, "opacity": 1},
  "encoding": {
    "x": {"field": "x", "type": "quantitative", "scale": {"domain": [0, 1000], "nice": false}, "axis": {"title": "AWE power per PV power / W per kWₚₑₐₖ", "values": [0,50,100,150,200,250,300,350,400,450,500,550,600,650,700,750,800,850,900,950,1000], "labelExpr": "datum.value % 200 === 0 ? '' + datum.value : ''", "tickSize": {"condition": {"test": "datum.value % 200 === 0", "value": -6}, "value": -4}, "labelPadding": 12, "titlePadding": 6}},
    "y": {"field": "y", "type": "quantitative", "scale": {"domain": [0, 100], "nice": false}, "axis": {"title": "renewable energy usage / 1", "values": [0,2,4,6,8,10,12,14,16,18,20,22,24,26,28,30,32,34,36,38,40,42,44,46,48,50,52,54,56,58,60,62,64,66,68,70,72,74,76,78,80,82,84,86,88,90,92,94,96,98,100], "labelExpr": "datum.value % 10 === 0 ? datum.value + '%' : ''", "tickSize": {"condition": {"test": "datum.value % 10 === 0", "value": -6}, "value": -4}, "labelPadding": 14, "titlePadding": 6}},
    "shape": {"field": "t", "type": "nominal", "scale": {"domain": ["B", "W"], "range": ["diamond", "triangle-up"]}, "legend": {"title": null, "orient": "bottom-right", "offset": 25, "labelExpr": "datum.label == 'B' ? 'battery scenarios' : 'only water electrolysis'"}},
    "fill": {"field": "t", "type": "nominal", "scale": {"domain": ["B", "W"], "range": ["#111111", "rgba(0,0,0,0)"]}, "legend": {"title": null, "orient": "bottom-right", "offset": 25, "labelExpr": "datum.label == 'B' ? 'battery scenarios' : 'only water electrolysis'"}},
    "stroke": {"field": "t", "type": "nominal", "scale": {"domain": ["B", "W"], "range": ["#111111", "#333333"]}, "legend": {"title": null, "orient": "bottom-right", "offset": 25, "labelExpr": "datum.label == 'B' ? 'battery scenarios' : 'only water electrolysis'"}},
    "size": {"field": "t", "type": "nominal", "scale": {"domain": ["B", "W"], "range": [18, 130]}, "legend": {"title": null, "orient": "bottom-right", "offset": 25, "labelExpr": "datum.label == 'B' ? 'battery scenarios' : 'only water electrolysis'"}}
  }
},
{
  "width": 403, "height": 376,
  "title": {"text": "b)"},
  "data": {"name": "b"},
  "mark": {"type": "point", "strokeWidth": 1.2, "opacity": 1},
  "encoding": {
    "x": {"field": "x", "type": "quantitative", "scale": {"domain": [0, 1000], "nice": false}, "axis": {"title": "AWE power per PV power / W per kWₚₑₐₖ", "values": [0,50,100,150,200,250,300,350,400,450,500,550,600,650,700,750,800,850,900,950,1000], "labelExpr": "datum.value % 200 === 0 ? '' + datum.value : ''", "tickSize": {"condition": {"test": "datum.value % 200 === 0", "value": -6}, "value": -4}, "labelPadding": 12, "titlePadding": 6}},
    "y": {"field": "y", "type": "quantitative", "scale": {"domain": [0, 100], "nice": false}, "axis": {"title": "time usage / 1", "values": [0,2,4,6,8,10,12,14,16,18,20,22,24,26,28,30,32,34,36,38,40,42,44,46,48,50,52,54,56,58,60,62,64,66,68,70,72,74,76,78,80,82,84,86,88,90,92,94,96,98,100], "labelExpr": "datum.value % 10 === 0 ? datum.value + '%' : ''", "tickSize": {"condition": {"test": "datum.value % 10 === 0", "value": -6}, "value": -4}, "labelPadding": 14, "titlePadding": 6}},
    "shape": {"field": "t", "type": "nominal", "scale": {"domain": ["B", "W"], "range": ["diamond", "triangle-up"]}, "legend": {"title": null, "orient": "bottom-right", "offset": 25, "labelExpr": "datum.label == 'B' ? 'battery scenarios' : 'only water electrolysis'"}},
    "fill": {"field": "t", "type": "nominal", "scale": {"domain": ["B", "W"], "range": ["#111111", "rgba(0,0,0,0)"]}, "legend": {"title": null, "orient": "bottom-right", "offset": 25, "labelExpr": "datum.label == 'B' ? 'battery scenarios' : 'only water electrolysis'"}},
    "stroke": {"field": "t", "type": "nominal", "scale": {"domain": ["B", "W"], "range": ["#111111", "#333333"]}, "legend": {"title": null, "orient": "bottom-right", "offset": 25, "labelExpr": "datum.label == 'B' ? 'battery scenarios' : 'only water electrolysis'"}},
    "size": {"field": "t", "type": "nominal", "scale": {"domain": ["B", "W"], "range": [18, 130]}, "legend": {"title": null, "orient": "bottom-right", "offset": 25, "labelExpr": "datum.label == 'B' ? 'battery scenarios' : 'only water electrolysis'"}}
  }
}
]
}
